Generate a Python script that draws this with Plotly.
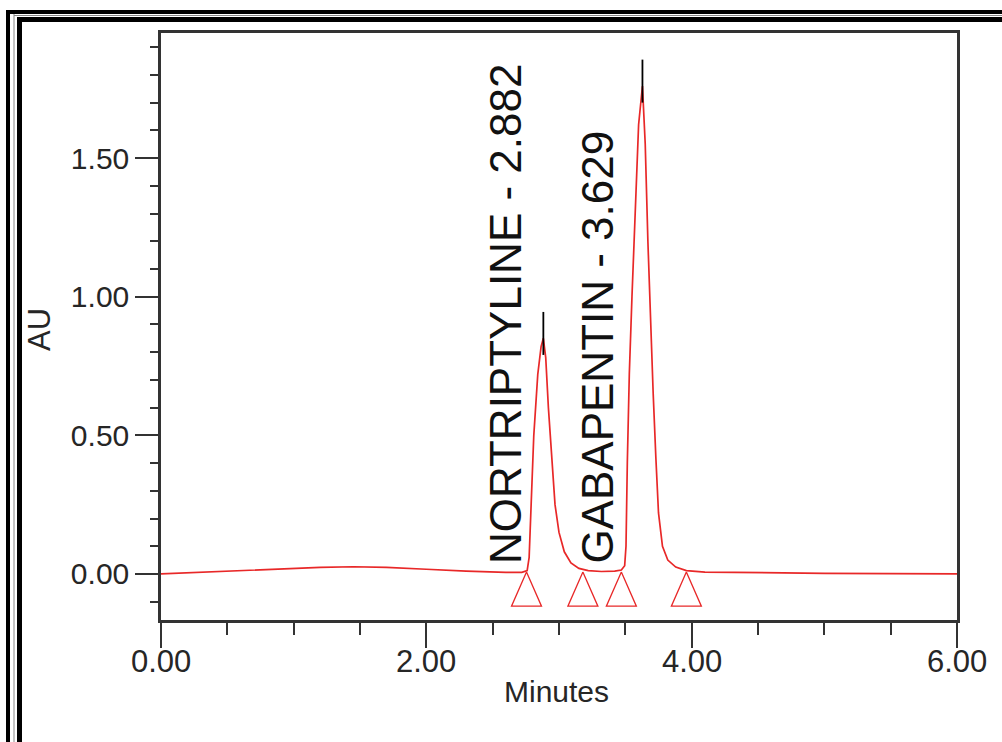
import plotly.graph_objects as go

# ---- data ----
time_min = [0.0, 0.3, 0.6, 0.9, 1.2, 1.45, 1.7, 2.0, 2.3, 2.6,
            2.72, 2.76, 2.775, 2.79, 2.81, 2.84, 2.865, 2.882, 2.90, 2.92,
            2.94, 2.97, 3.00, 3.04, 3.09, 3.15, 3.22, 3.32, 3.42, 3.47,
            3.495, 3.505, 3.515, 3.53, 3.55, 3.58, 3.60, 3.629, 3.65, 3.67,
            3.69, 3.71, 3.73, 3.75, 3.78, 3.82, 3.88, 3.96, 4.1, 4.5,
            5.0, 5.5, 6.0]
absorbance = [0.0, 0.006, 0.012, 0.019, 0.024, 0.026, 0.024, 0.017, 0.010, 0.006,
              0.006, 0.012, 0.06, 0.25, 0.50, 0.72, 0.82, 0.85, 0.78, 0.60,
              0.45, 0.25, 0.15, 0.08, 0.04, 0.02, 0.012, 0.009, 0.010, 0.014,
              0.03, 0.10, 0.40, 0.72, 1.00, 1.40, 1.62, 1.76, 1.55, 1.20,
              0.90, 0.65, 0.42, 0.22, 0.10, 0.05, 0.025, 0.012, 0.007, 0.004,
              0.002, 0.001, 0.0]

peak_names = ["NORTRIPTYLINE", "GABAPENTIN"]
peak_rt = [2.882, 3.629]
peak_height = [0.85, 1.76]
peak_marker_top = [0.945, 1.855]

boundary_times = [2.755, 3.18, 3.47, 3.96]
baseline_level = 0.007

x_ticks = [0, 2, 4, 6]
x_ticklabels = ["0.00", "2.00", "4.00", "6.00"]
y_ticks = [0.0, 0.5, 1.0, 1.5]
y_ticklabels = ["0.00", "0.50", "1.00", "1.50"]

# ---- layout geometry ----
W, H = 1002, 742
ML, MR, MT, MB = 161, 45, 33, 122
PW, PH = W - ML - MR, H - MT - MB


def px(xp):
    return (xp - ML) / PW


def py(yp):
    return (H - MB - yp) / PH


RED = "rgb(232,40,40)"
FONT = "Liberation Sans, Arial, sans-serif"
TXT = "#262626"

fig = go.Figure()

# chromatogram trace
fig.add_trace(go.Scatter(x=time_min, y=absorbance, mode="lines",
                         line=dict(color=RED, width=1.7), hoverinfo="skip"))

# peak boundary triangles (red outline)
tri_hw, tri_h = 0.113, 0.123
tx, ty = [], []
for t in boundary_times:
    tx += [t, t - tri_hw, t + tri_hw, t, None]
    ty += [baseline_level, baseline_level - tri_h, baseline_level - tri_h, baseline_level, None]
fig.add_trace(go.Scatter(x=tx, y=ty, mode="lines", line=dict(color=RED, width=1.3),
                         hoverinfo="skip"))

# black apex markers
bx, by = [], []
for rt, h, top in zip(peak_rt, peak_height, peak_marker_top):
    bx += [rt, rt, None]
    by += [h - 0.06, top, None]
fig.add_trace(go.Scatter(x=bx, y=by, mode="lines", line=dict(color="black", width=1.8),
                         hoverinfo="skip"))

# peak labels
label_shift = [-38, -45]
for name, rt, sh in zip(peak_names, peak_rt, label_shift):
    fig.add_annotation(x=rt, y=0.03, xref="x", yref="y", xshift=sh,
                       text=f"{name} - {rt:.3f}", showarrow=False, textangle=-90,
                       xanchor="center", yanchor="bottom",
                       font=dict(family=FONT, size=44, color="#111"))

# x tick labels (placed close under the long major ticks)
for v, lab in zip(x_ticks, x_ticklabels):
    fig.add_annotation(x=v, y=py(661), xref="x", yref="paper", text=lab,
                       showarrow=False, xanchor="center", yanchor="middle",
                       font=dict(family=FONT, size=31, color=TXT))

# axis titles
fig.add_annotation(x=px(556), y=py(691), xref="paper", yref="paper", text="Minutes",
                   showarrow=False, xanchor="center", yanchor="middle",
                   font=dict(family=FONT, size=30, color=TXT))
fig.add_annotation(x=px(39), y=py(330), xref="paper", yref="paper", text="AU",
                   showarrow=False, textangle=-90, xanchor="center", yanchor="middle",
                   font=dict(family=FONT, size=31, color=TXT))

# double border (top and left)
shapes = []
for (x0, x1, y0, y1) in [(6, 10, 10, 760), (17, 22, 17, 760),
                         (6, 1010, 10, 14), (17, 1010, 17, 22)]:
    shapes.append(dict(type="rect", xref="paper", yref="paper",
                       x0=px(x0), x1=px(x1), y0=py(y1), y1=py(y0),
                       fillcolor="black", line=dict(width=0), layer="above"))
for (x0, x1, y0, y1) in [(13.5, 14.5, 14, 760), (14, 1010, 15, 16)]:
    shapes.append(dict(type="rect", xref="paper", yref="paper",
                       x0=px(x0), x1=px(x1), y0=py(y1), y1=py(y0),
                       fillcolor="#888", line=dict(width=0), layer="above"))

fig.update_layout(
    width=W, height=H, margin=dict(l=ML, r=MR, t=MT, b=MB),
    paper_bgcolor="white", plot_bgcolor="white", showlegend=False,
    shapes=shapes,
    xaxis=dict(range=[0, 6], tickvals=x_ticks, showticklabels=False,
               ticks="outside", ticklen=25, tickwidth=2, tickcolor="#333",
               minor=dict(dtick=0.5, ticks="outside", ticklen=12, tickwidth=2, tickcolor="#333"),
               showline=True, linecolor="#333", linewidth=2.5, mirror=True,
               showgrid=False, zeroline=False),
    yaxis=dict(range=[-0.166, 1.951], tickvals=y_ticks, ticktext=y_ticklabels,
               ticks="outside", ticklen=23, tickwidth=2, tickcolor="#333",
               minor=dict(dtick=0.1, ticks="outside", ticklen=8, tickwidth=2, tickcolor="#333"),
               showline=True, linecolor="#333", linewidth=2.5, mirror=True,
               showgrid=False, zeroline=False,
               tickfont=dict(family=FONT, size=30, color=TXT)),
)

fig.write_html("out.html")
